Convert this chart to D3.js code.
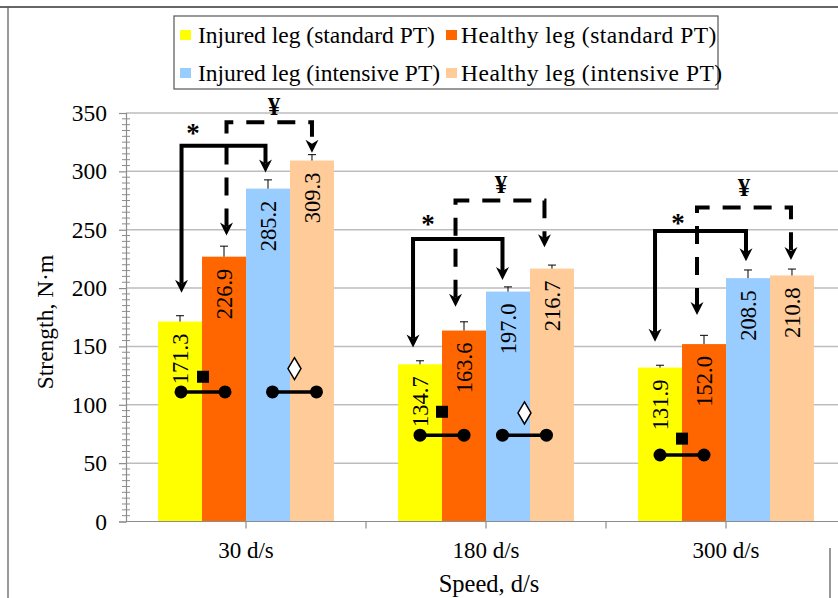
<!DOCTYPE html>
<html><head><meta charset="utf-8">
<script src="https://cdn.jsdelivr.net/npm/d3@7"></script>
<style>html,body{margin:0;padding:0;background:#fff;} svg{display:block;font-family:"Liberation Serif","Times New Roman",serif;}</style>
</head><body><svg id="chart" width="838" height="598"></svg>
<script>
// ---------- data ----------
const categories = ["30 d/s", "180 d/s", "300 d/s"];
const seriesNames = ["Injured leg (standard PT)", "Healthy leg (standard PT)", "Injured leg (intensive PT)", "Healthy leg (intensive PT)"];
const seriesColors = ["#FFFF00", "#FF6600", "#99CCFF", "#FFCC99"];
const injuredStandard  = [171.3, 134.7, 131.9];
const healthyStandard  = [226.9, 163.6, 152.0];
const injuredIntensive = [285.2, 197.0, 208.5];
const healthyIntensive = [309.3, 216.7, 210.8];
const errInjuredStandard  = [5, 3, 2];
const errHealthyStandard  = [9, 7.5, 7.5];
const errInjuredIntensive = [7.5, 4, 7];
const errHealthyIntensive = [5, 3, 5.5];
const yTicks = [0, 50, 100, 150, 200, 250, 300, 350];
const xTitle = "Speed, d/s";
const yTitle = "Strength, N\u00B7m";

// significance annotations (levels in N·m)
const solidBrackets  = [ // "*" : injured standard -> injured intensive
  {cat:0, from:0, to:2, level:322, tipFrom:196, tipTo:299, labelY:333, dxFrom:1.5, dxTo:-2.5, labelDx:-53},
  {cat:1, from:0, to:2, level:242, tipFrom:149, tipTo:207, labelY:255, dxFrom:-7, dxTo:-5.5, labelDx:-58},
  {cat:2, from:0, to:2, level:249, tipFrom:154, tipTo:223, labelY:256, dxFrom:-5, dxTo:-2, labelDx:-48}
];
const dashedBrackets = [ // "¥" : healthy standard -> healthy intensive
  {cat:0, from:1, to:3, level:342, tipFrom:245, tipTo:316, labelY:356, dxFrom:2.5, dxTo:0, labelDx:28},
  {cat:1, from:1, to:3, level:275, tipFrom:184, tipTo:235, labelY:289, dxFrom:-8.5, dxTo:-7.5, labelDx:15},
  {cat:2, from:1, to:3, level:269, tipFrom:177, tipTo:224, labelY:286, dxFrom:-7, dxTo:-1, labelDx:18}
];
const dumbbells = [ // paired markers
  {cat:0, from:0, to:1, level:111, symbol:"square",  symLevel:124, dx:1},
  {cat:0, from:2, to:3, level:111, symbol:"diamond", symLevel:131, dx:4.5},
  {cat:1, from:0, to:1, level:74,  symbol:"square",  symLevel:94,  dx:0},
  {cat:1, from:2, to:3, level:74,  symbol:"diamond", symLevel:93,  dx:-5.5},
  {cat:2, from:0, to:1, level:57,  symbol:"square",  symLevel:71,  dx:0}
];

// ---------- drawing ----------
const series = [injuredStandard, healthyStandard, injuredIntensive, healthyIntensive];
const errors = [errInjuredStandard, errHealthyStandard, errInjuredIntensive, errHealthyIntensive];
const svg = d3.select("#chart");
const FONT = "'Liberation Serif','Times New Roman',serif";

const plot = {left:126, right:846, top:113, bottom:521.5};
const x0 = d3.scaleBand().domain(categories).range([plot.left, plot.right]).padding(0);
const bw = x0.bandwidth();
const groupW = bw * 0.733;
const x1 = d3.scaleBand().domain(d3.range(series.length)).range([(bw-groupW)/2, (bw+groupW)/2]).padding(0);
const y = d3.scaleLinear().domain([0, 350]).range([plot.bottom, plot.top]);
const cx = (c, s) => x0(categories[c]) + x1(s) + x1.bandwidth()/2;

// outer frame fragments
svg.append("line").attr("x1",0).attr("x2",838).attr("y1",7).attr("y2",7).attr("stroke","#333").attr("stroke-width",1.5);
svg.append("line").attr("x1",8).attr("x2",8).attr("y1",7).attr("y2",598).attr("stroke","#555").attr("stroke-width",1.2);
svg.append("line").attr("x1",830).attr("x2",830).attr("y1",548).attr("y2",598).attr("stroke","#555").attr("stroke-width",1.2);

// gridlines
svg.append("g").selectAll("line").data(yTicks.filter(d=>d>0)).join("line")
  .attr("x1", plot.left).attr("x2", plot.right)
  .attr("y1", d=>y(d)).attr("y2", d=>y(d))
  .attr("stroke", "#bdbdbd").attr("stroke-width", 1.5);

// bars
const gBars = svg.append("g");
series.forEach((vals, s) => {
  gBars.selectAll(null).data(vals).join("rect")
    .attr("x", (d,i)=> x0(categories[i]) + x1(s))
    .attr("width", x1.bandwidth())
    .attr("y", d=>y(d)).attr("height", d=>y(0)-y(d))
    .attr("fill", seriesColors[s]);
});

// error bars
series.forEach((vals, s) => {
  vals.forEach((v, i) => {
    const xc = cx(i, s), yt = y(v), ye = y(v + errors[s][i]);
    svg.append("line").attr("x1",xc).attr("x2",xc).attr("y1",yt).attr("y2",ye).attr("stroke","#000").attr("stroke-width",1);
    svg.append("line").attr("x1",xc-4).attr("x2",xc+4).attr("y1",ye).attr("y2",ye).attr("stroke","#000").attr("stroke-width",1);
  });
});

// value labels
series.forEach((vals, s) => {
  vals.forEach((v, i) => {
    svg.append("text")
      .attr("transform", `translate(${cx(i,s)},${y(v)+12}) rotate(-90)`)
      .attr("text-anchor","end").attr("dy","0.35em")
      .attr("font-size",22.5).attr("font-family",FONT).attr("fill","#000")
      .text(v.toFixed(1));
  });
});

// axes
const yAxis = svg.append("g").attr("transform",`translate(${plot.left},0)`)
  .call(d3.axisLeft(y).tickValues(yTicks).tickSize(7).tickPadding(12).tickFormat(d3.format("d")));
yAxis.select(".domain").attr("stroke","#8c8c8c").attr("stroke-width",1.2);
yAxis.selectAll(".tick line").attr("stroke","#8c8c8c").attr("stroke-width",1.2);
yAxis.selectAll(".tick text").attr("font-size",23.5).attr("font-family",FONT).attr("fill","#000");
// minor ticks
svg.append("g").selectAll("line").data(d3.range(0, 351, 5).filter(d=>d%50!==0)).join("line")
  .attr("x1", plot.left-4).attr("x2", plot.left+4)
  .attr("y1", d=>y(d)).attr("y2", d=>y(d))
  .attr("stroke","#8c8c8c").attr("stroke-width",1);

// x axis
svg.append("line").attr("x1",plot.left).attr("x2",plot.right).attr("y1",y(0)).attr("y2",y(0)).attr("stroke","#8c8c8c").attr("stroke-width",1.2);
const xTickPos = [];
categories.forEach((c) => { xTickPos.push(x0(c) + bw/2); xTickPos.push(x0(c) + bw); });
svg.append("g").selectAll("line").data(xTickPos).join("line")
  .attr("x1",d=>d).attr("x2",d=>d).attr("y1",y(0)).attr("y2",y(0)+7)
  .attr("stroke","#8c8c8c").attr("stroke-width",1.2);
svg.append("g").selectAll("text").data(categories).join("text")
  .attr("x", d=>x0(d)+bw/2).attr("y", 558)
  .attr("text-anchor","middle").attr("font-size",23).attr("font-family",FONT).text(d=>d);

// axis titles
svg.append("text").attr("x", (plot.left+plot.right)/2 + 3).attr("y", 592)
  .attr("text-anchor","middle").attr("font-size",24.5).attr("font-family",FONT).text(xTitle);
svg.append("text").attr("transform", `translate(53,322) rotate(-90)`)
  .attr("text-anchor","middle").attr("font-size",23.5).attr("font-family",FONT).text(yTitle);

// arrowhead helper (pointing down)
function arrowHead(g, xTip, yTip) {
  g.append("path").attr("d", `M${xTip},${yTip} L${xTip-6.5},${yTip-13} L${xTip},${yTip-9} L${xTip+6.5},${yTip-13} Z`).attr("fill","#000");
}
function bracket(b, dashed, label, size) {
  const g = svg.append("g");
  const xa = cx(b.cat, b.from) + b.dxFrom, xb = cx(b.cat, b.to) + b.dxTo;
  const ya = y(b.tipFrom), yb = y(b.tipTo), yl = y(b.level);
  g.append("path")
    .attr("d", `M${xa},${ya-9} L${xa},${yl} L${xb},${yl} L${xb},${yb-9}`)
    .attr("fill","none").attr("stroke","#000").attr("stroke-width",4)
    .attr("stroke-dasharray", dashed ? "18,13" : null).attr("stroke-linejoin","miter");
  arrowHead(g, xa, ya); arrowHead(g, xb, yb);
  g.append("text").attr("x", x0(categories[b.cat]) + bw/2 + b.labelDx).attr("y", y(b.labelY))
    .attr("text-anchor","middle").attr("dy","0.35em")
    .attr("font-size",size).attr("font-weight","bold").attr("font-family",FONT).text(label);
}
solidBrackets.forEach(b => bracket(b, false, "*", 27));
dashedBrackets.forEach(b => bracket(b, true, "\u00A5", 25));

// dumbbells
dumbbells.forEach(d => {
  const g = svg.append("g");
  const xa = cx(d.cat, d.from) + d.dx, xb = cx(d.cat, d.to) + d.dx, yy = y(d.level);
  g.append("line").attr("x1",xa).attr("x2",xb).attr("y1",yy).attr("y2",yy).attr("stroke","#000").attr("stroke-width",3.5);
  [xa, xb].forEach(xx => g.append("circle").attr("cx",xx).attr("cy",yy).attr("r",6.5).attr("fill","#000"));
  const xm = (xa+xb)/2, ym = y(d.symLevel);
  if (d.symbol === "square") {
    g.append("rect").attr("x",xm-6).attr("y",ym-6).attr("width",12).attr("height",12).attr("fill","#000");
  } else {
    g.append("path").attr("d",`M${xm},${ym-11} L${xm+6.5},${ym} L${xm},${ym+11} L${xm-6.5},${ym} Z`)
      .attr("fill","#fff").attr("stroke","#000").attr("stroke-width",1.5);
  }
});

// legend
const lg = svg.append("g");
lg.append("rect").attr("x",174).attr("y",16).attr("width",544).attr("height",73)
  .attr("fill","#fff").attr("stroke","#555").attr("stroke-width",1.2);
const legendCols = [180, 446], legendTextOff = [18, 15], legendSpacing = [0, 0.5], legendRows = [35, 73];
seriesNames.forEach((name, i) => {
  const c = i % 2;
  const lx = legendCols[c], ly = legendRows[Math.floor(i / 2)];
  lg.append("rect").attr("x",lx).attr("y",ly-5).attr("width",11).attr("height",10).attr("fill",seriesColors[i]);
  lg.append("text").attr("x",lx+legendTextOff[c]).attr("y",ly).attr("dy","0.35em")
    .attr("letter-spacing", legendSpacing[c])
    .attr("font-size",23.5).attr("font-family",FONT).text(name);
});
</script></body></html>
